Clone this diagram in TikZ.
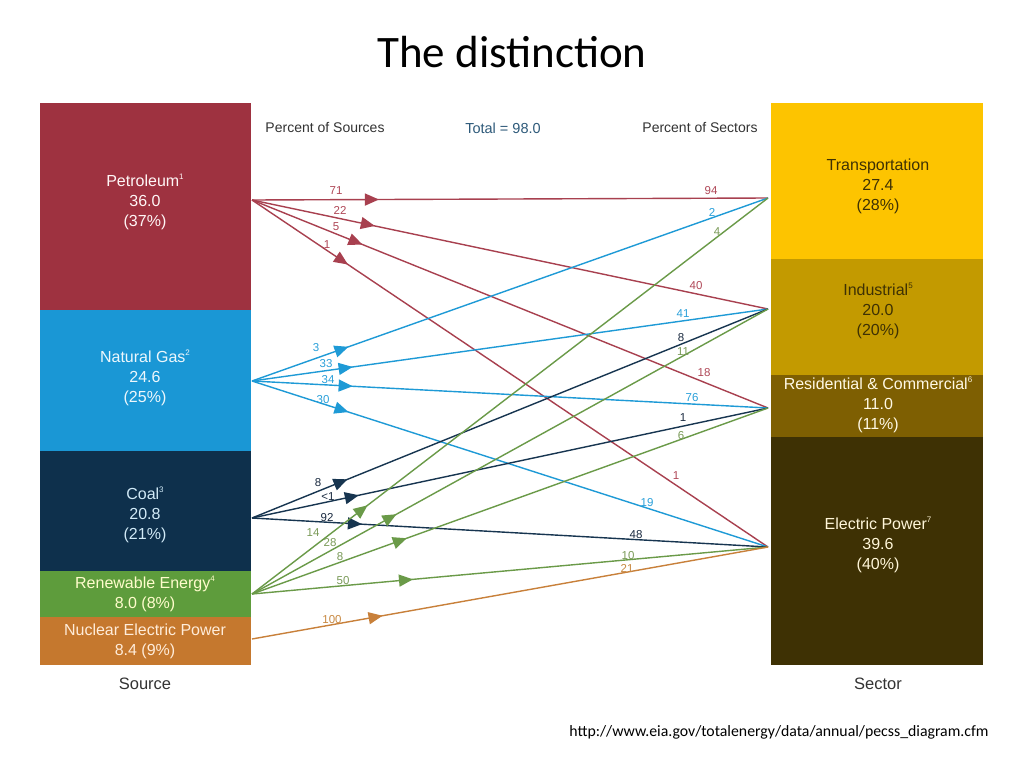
\documentclass[tikz,border=0pt]{standalone}
\usepackage{fontspec}
\setmainfont{Liberation Sans}
\newfontfamily\calibri{Carlito}
\usetikzlibrary{arrows.meta,decorations.markings}
\newcommand\mysup[1]{\raisebox{0.75ex}{\fontsize{8}{8}\selectfont #1}}
\definecolor{petc}{HTML}{9E3240}
\definecolor{ngc}{HTML}{1A97D5}
\definecolor{coalc}{HTML}{0E304C}
\definecolor{renc}{HTML}{5E9C3C}
\definecolor{nucc}{HTML}{C5782E}
\definecolor{trc}{HTML}{FDC400}
\definecolor{indc}{HTML}{C39A00}
\definecolor{resc}{HTML}{7E5F02}
\definecolor{elc}{HTML}{3E3104}
\definecolor{petl}{HTML}{A8404F}
\definecolor{ngl}{HTML}{1E9AD6}
\definecolor{coall}{HTML}{173550}
\definecolor{renl}{HTML}{6A9A48}
\definecolor{nucl}{HTML}{C8803A}
\definecolor{petlab}{HTML}{B04858}
\definecolor{nglab}{HTML}{2AA0DA}
\definecolor{coallab}{HTML}{1A2A40}
\definecolor{renlab}{HTML}{7A9A58}
\definecolor{nuclab}{HTML}{C88840}
\definecolor{hdr}{HTML}{333333}
\definecolor{totc}{HTML}{2E5A7A}
\begin{document}
\begin{tikzpicture}[x=1pt,y=-1pt,
  boxtext/.style={font=\fontsize{16}{20}\selectfont, align=center, inner sep=0},
  lab/.style={font=\fontsize{11.5}{11.5}\selectfont, inner sep=0},
  hdrtext/.style={font=\fontsize{14}{14}\selectfont, text=hdr, inner sep=0},
  axistext/.style={font=\fontsize{16.5}{17}\selectfont, text=hdr, inner sep=0},
  flowline/.style={line width=1.4pt},
  arr/.style={postaction={decorate}, decoration={markings, mark=at position #1 with {\arrow{Triangle[length=14pt,width=12pt]}}}}
]
\useasboundingbox (0,0) rectangle (1024,768);
\fill[white] (0,0) rectangle (1024,768);

% title
\node[font=\calibri\fontsize{45}{45}\selectfont, inner sep=0] (title) at (512,52) {The distinction};

% source boxes
\fill[petc] (40,103) rectangle (251,310);
\fill[ngc] (40,310) rectangle (251,451);
\fill[coalc] (40,451) rectangle (251,571);
\fill[renc] (40,571) rectangle (251,617);
\fill[nucc] (40,617) rectangle (251,665);

% sector boxes
\fill[trc] (771,103) rectangle (983,259);
\fill[indc] (771,259) rectangle (983,375);
\fill[resc] (771,375) rectangle (983,437);
\fill[elc] (771,437) rectangle (983,665);

% box texts
\node[boxtext, text=white!85!pink] (tpet) at (145,202) {Petroleum\mysup{1}\\36.0\\(37\%)};
\node[boxtext, text=white!92!ngc] (tng) at (145,378) {Natural Gas\mysup{2}\\24.6\\(25\%)};
\node[boxtext, text=white!80!ngc] (tcoal) at (145,515) {Coal\mysup{3}\\20.8\\(21\%)};
\node[boxtext, text=white!80!yellow] (tren) at (145,594) {Renewable Energy\mysup{4}\\8.0 (8\%)};
\node[boxtext, text=white!85!orange] (tnuc) at (145,641) {Nuclear Electric Power\\8.4 (9\%)};

\node[boxtext, text=elc] (ttr) at (878,186) {Transportation\\27.4\\(28\%)};
\node[boxtext, text=elc] (tind) at (878,311) {Industrial\mysup{5}\\20.0\\(20\%)};
\node[boxtext, text=white!90!trc] (tres) at (878,405) {Residential \& Commercial\mysup{6}\\11.0\\(11\%)};
\node[boxtext, text=white!85!trc] (tel) at (878,545) {Electric Power\mysup{7}\\39.6\\(40\%)};

% headers
\node[hdrtext] (h1) at (325,128) {Percent of Sources};
\node[hdrtext, text=totc, font=\fontsize{14.5}{15}\selectfont] (h2) at (503,128) {Total = 98.0};
\node[hdrtext] (h3) at (700,128) {Percent of Sectors};

\node[axistext] (src) at (145,684) {Source};
\node[axistext] (sec) at (878,684) {Sector};

\node[font=\calibri\fontsize{15.8}{16}\selectfont, inner sep=0] (url) at (779,732) {http://www.eia.gov/totalenergy/data/annual/pecss\_diagram.cfm};

% connection points
\coordinate (sP) at (252,200);
\coordinate (sN) at (252,381);
\coordinate (sC) at (252,518);
\coordinate (sR) at (252,594);
\coordinate (sU) at (252,639);
\coordinate (dT) at (768,198);
\coordinate (dI) at (768,309);
\coordinate (dR) at (768,408);
\coordinate (dE) at (768,547);

% petroleum flows
\draw[flowline, petl, arr=0.246] (sP) -- (dT);
\draw[flowline, petl, arr=0.238] (sP) -- (dI);
\draw[flowline, petl, arr=0.214] (sP) -- (dR);
\draw[flowline, petl, arr=0.186] (sP) -- (dE);

% natural gas flows
\draw[flowline, ngl, arr=0.187] (sN) -- (dT);
\draw[flowline, ngl, arr=0.195] (sN) -- (dI);
\draw[flowline, ngl, arr=0.195] (sN) -- (dR);
\draw[flowline, ngl, arr=0.187] (sN) -- (dE);

% coal flows
\draw[flowline, coall, arr=0.185] (sC) -- (dI);
\draw[flowline, coall, arr=0.207] (sC) -- (dR);
\draw[flowline, coall, arr=0.213] (sC) -- (dE);

% renewable flows
\draw[flowline, renl, arr=0.224] (sR) -- (dT);
\draw[flowline, renl, arr=0.28] (sR) -- (dI);
\draw[flowline, renl, arr=0.30] (sR) -- (dR);
\draw[flowline, renl, arr=0.312] (sR) -- (dE);

% nuclear flow
\draw[flowline, nucl, arr=0.253] (sU) -- (dE);

% labels: petroleum
\node[lab, text=petlab] (l1) at (336,191) {71};
\node[lab, text=petlab] (l2) at (340,210) {22};
\node[lab, text=petlab] (l3) at (336,227) {5};
\node[lab, text=petlab] (l4) at (327,245) {1};
\node[lab, text=petlab] (r1) at (711,191) {94};
\node[lab, text=petlab] (r2) at (696,286) {40};
\node[lab, text=petlab] (r3) at (704,373) {18};
\node[lab, text=petlab] (r4) at (676,476) {1};
% natural gas
\node[lab, text=nglab] (l5) at (316,348) {3};
\node[lab, text=nglab] (l6) at (326,364) {33};
\node[lab, text=nglab] (l7) at (328,380) {34};
\node[lab, text=nglab] (l8) at (323,400) {30};
\node[lab, text=nglab] (r5) at (712,212) {2};
\node[lab, text=nglab] (r6) at (683,314) {41};
\node[lab, text=nglab] (r7) at (692,398) {76};
\node[lab, text=nglab] (r8) at (647,503) {19};
% coal
\node[lab, text=coallab] (l9) at (318,483) {8};
\node[lab, text=coallab] (l10) at (328,497) {<1};
\node[lab, text=coallab] (l11) at (327,518) {92};
\node[lab, text=coallab] (r9) at (681,338) {8};
\node[lab, text=coallab] (r10) at (683,418) {1};
\node[lab, text=coallab] (r11) at (636,535) {48};
% renewable
\node[lab, text=renlab] (l12) at (313,533) {14};
\node[lab, text=renlab] (l13) at (330,543) {28};
\node[lab, text=renlab] (l14) at (340,557) {8};
\node[lab, text=renlab] (l15) at (343,581) {50};
\node[lab, text=renlab] (r12) at (717,232) {4};
\node[lab, text=renlab] (r13) at (683,352) {11};
\node[lab, text=renlab] (r14) at (681,436) {6};
\node[lab, text=renlab] (r15) at (628,556) {10};
% nuclear
\node[lab, text=nuclab] (l16) at (332,620) {100};
\node[lab, text=nuclab] (r16) at (627,568) {21};
\end{tikzpicture}
\end{document}
